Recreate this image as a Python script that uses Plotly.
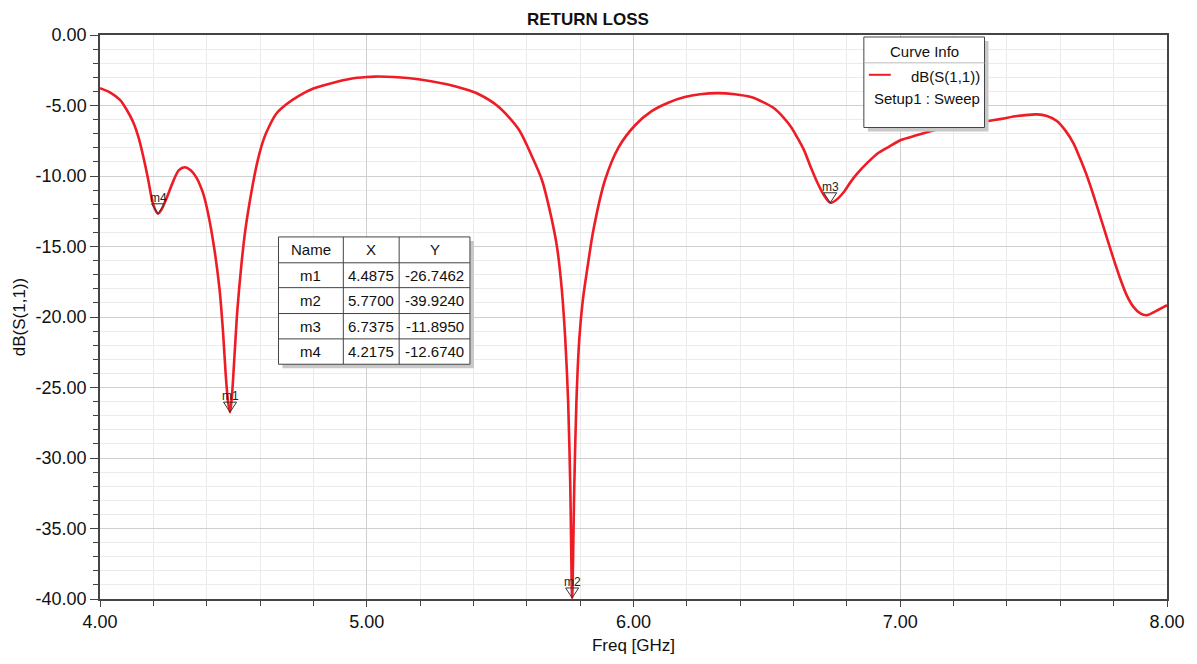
import plotly.graph_objects as go

# ---- data ----
freq = [4.000, 4.040, 4.075, 4.100, 4.125, 4.145, 4.162, 4.180, 4.194, 4.205, 4.2175, 4.230, 4.249, 4.274,
        4.295, 4.318, 4.340, 4.361, 4.386, 4.400, 4.423, 4.448, 4.461, 4.471, 4.480, 4.4875, 4.495, 4.505,
        4.515, 4.530, 4.545, 4.567, 4.590, 4.610, 4.624, 4.660, 4.700, 4.747, 4.800, 4.871, 4.940, 5.000,
        5.030, 5.100, 5.200, 5.300, 5.360, 5.420, 5.495, 5.570, 5.619, 5.657, 5.688, 5.713, 5.731, 5.744,
        5.755, 5.763, 5.770, 5.778, 5.786, 5.797, 5.810, 5.825, 5.850, 5.893, 5.943, 6.006, 6.068, 6.130,
        6.192, 6.250, 6.315, 6.380, 6.440, 6.490, 6.527, 6.560, 6.590, 6.615, 6.640, 6.665, 6.690, 6.715,
        6.7375, 6.760, 6.790, 6.815, 6.840, 6.880, 6.915, 6.960, 7.002, 7.064, 7.127, 7.189, 7.250, 7.314,
        7.380, 7.438, 7.513, 7.550, 7.587, 7.620, 7.650, 7.675, 7.700, 7.725, 7.750, 7.775, 7.800, 7.825,
        7.850, 7.875, 7.900, 7.924, 7.960, 8.000]
s11_db = [-3.77, -4.1, -4.6, -5.3, -6.2, -7.3, -8.6, -10.2, -11.6, -12.3, -12.67, -12.4, -11.6, -10.4,
          -9.6, -9.38, -9.6, -10.1, -11.2, -12.2, -14.5, -18.0, -21.0, -24.0, -26.0, -26.75, -25.5, -22.5,
          -19.5, -16.3, -13.8, -11.2, -9.0, -7.6, -6.9, -5.6, -4.9, -4.3, -3.8, -3.4, -3.1, -2.98,
          -2.95, -2.98, -3.15, -3.5, -3.8, -4.2, -5.1, -6.7, -8.6, -10.3, -12.6, -15.0, -18.0, -21.5,
          -26.0, -32.0, -39.92, -32.0, -26.0, -21.5, -18.8, -16.8, -13.8, -10.3, -8.0, -6.4, -5.4, -4.8,
          -4.4, -4.2, -4.12, -4.2, -4.4, -4.8, -5.2, -5.8, -6.5, -7.3, -8.2, -9.4, -10.5, -11.4,
          -11.9, -11.7, -11.1, -10.4, -9.8, -9.0, -8.4, -7.9, -7.45, -7.1, -6.75, -6.55, -6.35, -6.15,
          -5.95, -5.75, -5.63, -5.75, -6.1, -6.8, -7.7, -8.8, -10.0, -11.4, -12.9, -14.4, -15.9, -17.3,
          -18.5, -19.3, -19.75, -19.87, -19.56, -19.16]

marker_names = ["m1", "m2", "m3", "m4"]
marker_x = [4.4875, 5.7700, 6.7375, 4.2175]
marker_y = [-26.7462, -39.9240, -11.8950, -12.6740]
x_labels = ["4.4875", "5.7700", "6.7375", "4.2175"]
y_labels = ["-26.7462", "-39.9240", "-11.8950", "-12.6740"]

x_tickvals = [4, 5, 6, 7, 8]
x_ticktext = ["4.00", "5.00", "6.00", "7.00", "8.00"]
y_tickvals = [0, -5, -10, -15, -20, -25, -30, -35, -40]
y_ticktext = ["0.00", "-5.00", "-10.00", "-15.00", "-20.00", "-25.00", "-30.00", "-35.00", "-40.00"]

# ---- layout geometry ----
W, H = 1197, 664
L, R, T, B = 100, 27, 35, 62
PW, PH = W - L - R, H - T - B
X0, X1, Y0, Y1 = 4.0, 8.0, -40.0, 0.0
px_per_x = PW / (X1 - X0)
px_per_y = PH / (Y1 - Y0)


def px(xp):
    return (xp - L) / PW


def py(yp):
    return (H - B - yp) / PH


FONT = "Liberation Sans, Arial, sans-serif"
RED = "#ee1c25"

fig = go.Figure()
fig.add_trace(go.Scatter(x=freq, y=s11_db, mode="lines",
                         line=dict(color=RED, width=2.6, shape="spline", smoothing=0.8),
                         showlegend=False, hoverinfo="x+y"))

shapes = []
annotations = []

# marker triangles (tip on curve)
tw, th = 6.5, 10
for n, mx, my in zip(marker_names, marker_x, marker_y):
    dx = tw / px_per_x
    dy = th / px_per_y
    shapes.append(dict(type="path", xref="x", yref="y",
                       path=f"M {mx} {my} L {mx-dx} {my+dy} L {mx+dx} {my+dy} Z",
                       line=dict(color="#333333", width=1), fillcolor="rgba(255,255,255,0)", layer="above"))
    annotations.append(dict(x=mx, y=my + dy, xref="x", yref="y", text=n, showarrow=False,
                            yanchor="bottom", xanchor="center", yshift=-3,
                            font=dict(family=FONT, size=12, color="#222")))

# marker table
tl, tr, ttop, tbot = 279, 471, 238, 366
cols = [279, 344, 400, 471]
rows = [238, 264, 289, 315, 340.5, 366]
shapes.append(dict(type="rect", xref="paper", yref="paper", x0=px(tl + 4), x1=px(tr + 4), y0=py(tbot + 4), y1=py(ttop + 4),
                   line=dict(width=0), fillcolor="#c8c8c8", layer="above"))
shapes.append(dict(type="rect", xref="paper", yref="paper", x0=px(tl), x1=px(tr), y0=py(tbot), y1=py(ttop),
                   line=dict(color="#444", width=1), fillcolor="white", layer="above"))
for c in cols[1:-1]:
    shapes.append(dict(type="line", xref="paper", yref="paper", x0=px(c), x1=px(c), y0=py(tbot), y1=py(ttop),
                       line=dict(color="#444", width=1), layer="above"))
for r in rows[1:-1]:
    shapes.append(dict(type="line", xref="paper", yref="paper", x0=px(tl), x1=px(tr), y0=py(r), y1=py(r),
                       line=dict(color="#444", width=1), layer="above"))
table = [["Name", "X", "Y"]] + [[n, xl, yl] for n, xl, yl in zip(marker_names, x_labels, y_labels)]
for ri, row in enumerate(table):
    yc = (rows[ri] + rows[ri + 1]) / 2
    for ci, txt in enumerate(row):
        xc = (cols[ci] + cols[ci + 1]) / 2
        annotations.append(dict(x=px(xc), y=py(yc), xref="paper", yref="paper", text=txt, showarrow=False,
                                xanchor="center", yanchor="middle",
                                font=dict(family=FONT, size=15, color="#111")))

# curve info box
bl, br, bt, bb = 866, 987, 37, 128
shapes.append(dict(type="rect", xref="paper", yref="paper", x0=px(bl + 4), x1=px(br + 4), y0=py(bb + 4), y1=py(bt + 4),
                   line=dict(width=0), fillcolor="#c8c8c8", layer="above"))
shapes.append(dict(type="rect", xref="paper", yref="paper", x0=px(bl), x1=px(br), y0=py(bb), y1=py(bt),
                   line=dict(color="#444", width=1), fillcolor="white", layer="above"))
shapes.append(dict(type="line", xref="paper", yref="paper", x0=px(bl), x1=px(br), y0=py(63), y1=py(63),
                   line=dict(color="#bbb", width=1), layer="above"))
shapes.append(dict(type="line", xref="paper", yref="paper", x0=px(871), x1=px(893), y0=py(75), y1=py(75),
                   line=dict(color=RED, width=2), layer="above"))
annotations.append(dict(x=px((bl + br) / 2), y=py(52), xref="paper", yref="paper", text="Curve Info",
                        showarrow=False, xanchor="center", yanchor="middle",
                        font=dict(family=FONT, size=15, color="#111")))
annotations.append(dict(x=px(984), y=py(77), xref="paper", yref="paper", text="dB(S(1,1))",
                        showarrow=False, xanchor="right", yanchor="middle",
                        font=dict(family=FONT, size=15, color="#111")))
annotations.append(dict(x=px(984), y=py(99), xref="paper", yref="paper", text="Setup1 : Sweep",
                        showarrow=False, xanchor="right", yanchor="middle",
                        font=dict(family=FONT, size=15, color="#111")))

# title
annotations.append(dict(x=px(589), y=py(19), xref="paper", yref="paper", text="<b>RETURN LOSS</b>",
                        showarrow=False, xanchor="center", yanchor="middle",
                        font=dict(family=FONT, size=17, color="#111")))

fig.update_layout(
    width=W, height=H,
    margin=dict(l=L, r=R, t=T, b=B, pad=0),
    paper_bgcolor="white", plot_bgcolor="white",
    font=dict(family=FONT, color="#111"),
    shapes=shapes, annotations=annotations,
    xaxis=dict(range=[X0, X1], tickmode="array", tickvals=x_tickvals, ticktext=x_ticktext,
               showgrid=True, gridcolor="#cfcfcf", gridwidth=1,
               ticks="outside", ticklen=6, tickcolor="#444",
               minor=dict(dtick=0.2, tick0=4, showgrid=True, gridcolor="#ebebeb", ticks="outside", ticklen=5, tickcolor="#444"),
               showline=True, linecolor="#444", linewidth=1.5, mirror=True,
               zeroline=False, tickfont=dict(size=18, family=FONT, color="#111"),
               title=dict(text="Freq [GHz]", font=dict(size=17, family=FONT, color="#111"), standoff=8)),
    yaxis=dict(range=[Y0, Y1], tickmode="array", tickvals=y_tickvals, ticktext=y_ticktext,
               showgrid=True, gridcolor="#cfcfcf", gridwidth=1,
               ticks="outside", ticklen=8, tickcolor="#444",
               minor=dict(dtick=1, tick0=0, showgrid=True, gridcolor="#ebebeb", ticks="outside", ticklen=5, tickcolor="#444"),
               showline=True, linecolor="#444", linewidth=1.5, mirror=True,
               zeroline=False, tickfont=dict(size=18, family=FONT, color="#111"),
               title=dict(text="dB(S(1,1))", font=dict(size=17, family=FONT, color="#111"), standoff=6)),
)

fig.write_html("out.html")
